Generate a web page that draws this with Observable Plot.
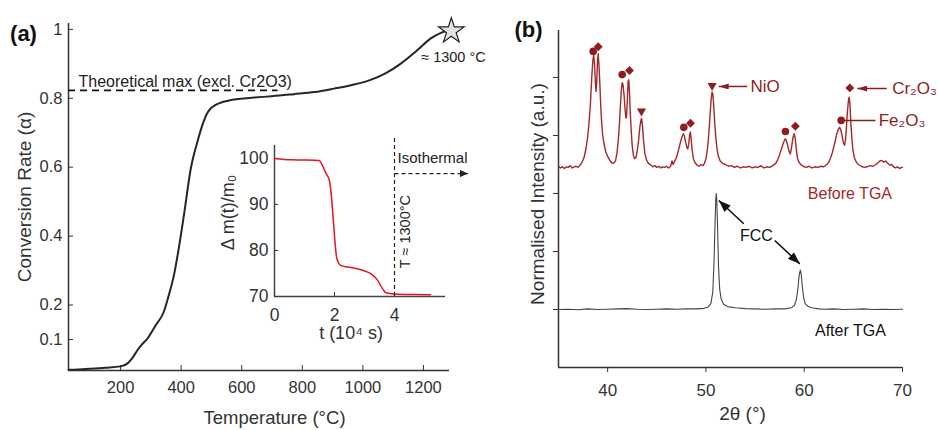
<!DOCTYPE html>
<html><head><meta charset="utf-8">
<script src="https://cdn.jsdelivr.net/npm/d3@7"></script>
<script src="https://cdn.jsdelivr.net/npm/@observablehq/plot@0.6"></script>
<style>
html,body{margin:0;padding:0;background:#fff;}
#chart{position:relative;width:938px;height:430px;overflow:hidden;}
#chart svg{position:absolute;overflow:visible;}
</style></head><body><div id="chart"></div>
<script>
const FONT = '"Liberation Sans", Arial, Helvetica, sans-serif';

// ---------- Panel (a): conversion rate vs temperature ----------
const tempA  = [28, 60, 100, 150, 200, 222, 238, 255, 270, 288, 315, 342, 359, 376, 392, 409, 432, 455, 472, 485, 498, 512, 530, 555, 590, 640, 700, 772, 840, 904, 960, 1021, 1076, 1124, 1179, 1223, 1256, 1275, 1292];
const alphaA = [0.012, 0.013, 0.015, 0.018, 0.022, 0.030, 0.045, 0.068, 0.085, 0.102, 0.14, 0.179, 0.228, 0.286, 0.364, 0.46, 0.597, 0.678, 0.727, 0.755, 0.771, 0.780, 0.787, 0.793, 0.798, 0.802, 0.806, 0.812, 0.818, 0.828, 0.838, 0.852, 0.873, 0.90, 0.939, 0.973, 0.989, 0.995, 0.997];
const tempTicks  = [200, 400, 600, 800, 1000, 1200];
const alphaTicks = [0.1, 0.2, 0.4, 0.6, 0.8, 1];
const theoMax = 0.823;          // theoretical max (excl. Cr2O3)
const theoEndTemp = 720;
const starPoint = [{t: 1292, a: 0.995}];

// ---------- Inset: mass change vs time ----------
const timeI = [0, 0.55, 1.0, 1.49, 1.57, 1.72, 1.83, 1.9, 1.97, 2.02, 2.08, 2.22, 2.44, 2.88, 3.22, 3.44, 3.6, 3.72, 4.0, 4.66, 5.2];
const massI = [100.0, 99.7, 99.65, 99.55, 98.8, 96.7, 95.2, 91.6, 85.8, 81.5, 78.2, 76.7, 76.4, 75.8, 74.9, 73.5, 71.7, 70.8, 70.55, 70.43, 70.4];
const timeTicks = [0, 2, 4];
const massTicks = [70, 80, 90, 100];
const isoTime = 4;

// ---------- Panel (b): XRD ----------
const thetaBefore = [35.0,35.2,35.4,35.6,35.8,36.0,36.2,36.4,36.6,36.8,37.0,37.2,37.4,37.6,37.8,37.95,38.1,38.25,38.4,38.5,38.58,38.66,38.76,38.82,38.9,38.97,39.04,39.12,39.2,39.3,39.4,39.5,39.65,39.8,40.0,40.2,40.4,40.6,40.8,40.95,41.1,41.2,41.3,41.4,41.48,41.56,41.66,41.76,41.86,41.92,42.0,42.08,42.15,42.22,42.3,42.4,42.5,42.62,42.75,42.88,43.0,43.15,43.28,43.4,43.46,43.55,43.65,43.78,43.95,44.15,44.4,44.6,44.8,45.0,45.2,45.4,45.6,45.8,46.0,46.2,46.4,46.55,46.65,46.8,47.0,47.2,47.4,47.55,47.7,47.8,47.92,48.05,48.15,48.25,48.35,48.42,48.5,48.6,48.72,48.9,49.1,49.3,49.5,49.7,49.85,50.0,50.15,50.28,50.4,50.52,50.62,50.7,50.8,50.9,51.0,51.12,51.25,51.45,51.7,52.0,52.3,52.6,52.9,53.2,53.5,53.8,54.1,54.4,54.7,55.0,55.3,55.6,55.9,56.2,56.5,56.8,57.1,57.3,57.5,57.7,57.9,58.05,58.15,58.3,58.45,58.58,58.7,58.85,58.98,59.08,59.2,59.32,59.5,59.7,59.9,60.2,60.5,60.8,61.1,61.4,61.7,62.0,62.3,62.5,62.7,62.85,63.0,63.15,63.3,63.45,63.6,63.72,63.85,63.98,64.1,64.2,64.3,64.4,64.5,64.57,64.65,64.75,64.85,64.95,65.1,65.3,65.5,65.8,66.1,66.4,66.7,67.0,67.3,67.5,67.7,67.9,68.1,68.3,68.5,68.7,68.9,69.1,69.3,69.5,69.7,69.9,70.0];
const intBefore   = [2.47,2.44,2.46,2.43,2.46,2.45,2.48,2.44,2.46,2.47,2.45,2.49,2.54,2.62,2.78,2.95,3.2,3.55,4.05,4.3,4.38,4.25,3.9,3.76,3.95,4.3,4.41,4.2,3.92,3.5,3.2,3.0,2.84,2.72,2.64,2.58,2.53,2.52,2.56,2.7,2.95,3.2,3.52,3.8,3.91,3.88,3.72,3.48,3.3,3.32,3.6,3.93,3.96,3.75,3.4,3.08,2.82,2.66,2.6,2.62,2.72,2.92,3.15,3.28,3.29,3.15,2.92,2.7,2.58,2.52,2.49,2.46,2.48,2.45,2.47,2.44,2.46,2.45,2.47,2.44,2.47,2.56,2.5,2.55,2.62,2.74,2.88,2.97,3.03,3.0,2.9,2.8,2.77,2.85,3.02,3.06,2.93,2.75,2.6,2.53,2.49,2.47,2.5,2.48,2.52,2.6,2.76,3.0,3.3,3.6,3.75,3.72,3.5,3.2,2.98,2.78,2.65,2.56,2.52,2.5,2.47,2.48,2.45,2.47,2.44,2.46,2.45,2.47,2.44,2.46,2.45,2.48,2.44,2.46,2.45,2.48,2.52,2.58,2.67,2.78,2.88,2.94,2.93,2.84,2.73,2.68,2.78,2.96,3.03,2.95,2.76,2.6,2.53,2.49,2.47,2.45,2.47,2.44,2.46,2.45,2.47,2.46,2.5,2.54,2.62,2.7,2.8,2.9,3.02,3.1,3.14,3.1,3.0,2.88,2.83,2.92,3.15,3.42,3.6,3.66,3.55,3.2,2.95,2.76,2.62,2.54,2.5,2.47,2.45,2.46,2.48,2.47,2.5,2.53,2.56,2.57,2.54,2.56,2.52,2.49,2.5,2.46,2.44,2.46,2.43,2.45,2.45];
const thetaAfter = [35,36,37,38,39,40,41,42,43,44,45,46,47,48,49,49.8,50.2,50.5,50.7,50.82,50.92,51.0,51.05,51.1,51.18,51.28,51.4,51.55,51.8,52.2,53,54,55,56,57,58,58.7,59.0,59.2,59.35,59.48,59.6,59.7,59.82,59.95,60.1,60.4,60.9,61.5,62,63,64,65,66,67,68,69,70];
const intAfter   = [0,0.005,-0.005,0.01,0,0.005,0.01,0.015,0.005,0,0.005,0.01,0.005,0.01,0.01,0.02,0.04,0.1,0.3,0.8,1.45,1.9,2.0,1.9,1.45,0.75,0.35,0.18,0.09,0.05,0.03,0.015,0.01,0.005,0.01,0.01,0.03,0.07,0.17,0.35,0.58,0.68,0.6,0.38,0.2,0.1,0.05,0.025,0.01,0.005,0.01,0,0.005,0.01,0,0.005,0,0.005];
const thetaTicks = [40, 50, 60, 70];
const intTicks = [0, 1, 2, 3, 4];
const fe2o3Peaks = [[38.53,4.45],[41.48,4.05],[47.75,3.14],[58.09,3.07],[63.76,3.26]];
const cr2o3Peaks = [[39.04,4.53],[42.22,4.12],[48.43,3.21],[59.1,3.16],[64.64,3.82]];
const nioPeaks   = [[43.44,3.42],[50.63,3.86]];

// ---------- helpers ----------
function filledArrow(len, wid) {
  return (color) => {
    const m = d3.create("svg:marker")
      .attr("viewBox", `${-len} ${-wid / 2} ${len} ${wid}`)
      .attr("markerWidth", len).attr("markerHeight", wid)
      .attr("markerUnits", "userSpaceOnUse")
      .attr("refX", 0).attr("refY", 0)
      .attr("orient", "auto");
    m.append("path")
      .attr("d", `M${-len},${-wid / 2}L0,0L${-len},${wid / 2}Z`)
      .attr("fill", color).attr("stroke", "none");
    return m.node();
  };
}
const zipXY = (xs, ys) => xs.map((x, i) => ({x, y: ys[i]}));
const chart = document.getElementById("chart");
function place(svg, left, top) { svg.style.left = left + "px"; svg.style.top = top + "px"; chart.appendChild(svg); }
const label = (s, o) => Plot.text([s], {text: d => d, textAnchor: "middle", lineAnchor: "middle", ...o});

// ---------- Panel (a) ----------
const AX = "#333";
const plotA = Plot.plot({
  width: 470, height: 430,
  marginLeft: 68, marginRight: 21, marginTop: 23, marginBottom: 60,
  style: {fontFamily: FONT, background: "transparent", color: AX},
  x: {domain: [28, 1286]},
  y: {domain: [0.01, 1.017]},
  marks: [
    Plot.ruleY([0.01], {stroke: AX, strokeWidth: 1.5}),
    Plot.ruleX([28], {stroke: AX, strokeWidth: 1.5}),
    Plot.axisX(tempTicks, {tickSize: -5, tickPadding: 16, fontSize: 16.5, label: null, color: AX, tickFormat: d => String(d)}),
    Plot.axisY(alphaTicks, {tickSize: -5, tickPadding: 11, fontSize: 16.5, label: null, color: AX, tickFormat: d => String(d)}),
    Plot.ruleY([theoMax], {x1: 28, x2: theoEndTemp, stroke: "#111", strokeWidth: 1.6, strokeDasharray: "7,5"}),
    Plot.text(["Theoretical max (excl. Cr2O3)"], {x: 61, y: 0.849, text: d => d, textAnchor: "start", fontSize: 16, fill: "#222"}),
    Plot.line(zipXY(tempA, alphaA), {x: "x", y: "y", curve: "monotone-x", stroke: "#262626", strokeWidth: 2}),
    Plot.dot(starPoint, {x: "t", y: "a", symbol: "star", r: 8, fill: "#e2e2e2", stroke: "#222", strokeWidth: 1.2}),
    Plot.text(["≈ 1300 °C"], {x: 1299, y: 0.919, text: d => d, fontSize: 14.5, fill: "#222"}),
    label("Temperature (°C)", {frameAnchor: "bottom", dx: 15.5, dy: 48, fontSize: 18.5, fill: "#333"}),
    label("Conversion Rate (α)", {frameAnchor: "left", rotate: -90, dx: -44, dy: 0, fontSize: 19, fill: "#333"}),
    label("(a)", {frameAnchor: "top-left", dx: -45, dy: 10, fontSize: 22, fontWeight: "bold", fill: "#111"})
  ]
});
place(plotA, 0, 0);

// ---------- Inset ----------
const plotI = Plot.plot({
  width: 280, height: 220,
  marginLeft: 74, marginRight: 35, marginTop: 15, marginBottom: 54,
  style: {fontFamily: FONT, background: "transparent", color: "#444"},
  x: {domain: [0, 5.7]},
  y: {domain: [70, 102.8]},
  marks: [
    Plot.ruleY([70], {stroke: "#444", strokeWidth: 1.5}),
    Plot.ruleX([0], {stroke: "#444", strokeWidth: 1.5}),
    Plot.axisX(timeTicks, {tickSize: -4, tickPadding: 16, fontSize: 17.5, label: null, color: "#333"}),
    Plot.axisY(massTicks, {tickSize: -4, tickPadding: 10, fontSize: 17.5, label: null, color: "#333"}),
    Plot.line(zipXY(timeI, massI), {x: "x", y: "y", curve: "monotone-x", stroke: "#e3151d", strokeWidth: 1.5}),
    Plot.ruleX([isoTime], {y1: 70, y2: 104.6, stroke: "#222", strokeWidth: 1.2, strokeDasharray: "4,3"}),
    Plot.link([0], {x1: isoTime, x2: 6.45, y1: 96.7, y2: 96.7, stroke: "#222", strokeWidth: 1.2, strokeDasharray: "4,3", markerEnd: filledArrow(8, 7)}),
    Plot.text(["Isothermal"], {x: 4.1, y: 100.15, text: d => d, textAnchor: "start", fontSize: 15, fill: "#222"}),
    Plot.text(["T ≈ 1300°C"], {x: 4.35, y: 84.1, text: d => d, rotate: -90, fontSize: 14.5, fill: "#222"}),
    label("Δ m(t)/m₀", {frameAnchor: "left", rotate: -90, dx: -46, dy: -8.5, fontSize: 18, fill: "#333"}),
    label("t (10⁴ s)", {frameAnchor: "bottom", dx: -9, dy: 37, fontSize: 18, fill: "#333"})
  ]
});
place(plotI, 200, 130);

// ---------- Panel (b) ----------
const RED = "#a3282b", DRED = "#8f1d1f";
const plotB = Plot.plot({
  width: 468, height: 430,
  marginLeft: 88, marginRight: 36, marginTop: 30, marginBottom: 63,
  style: {fontFamily: FONT, background: "transparent", color: AX},
  x: {domain: [35, 70]},
  y: {domain: [-1.0, 4.81]},
  marks: [
    Plot.ruleY([-1.0], {stroke: AX, strokeWidth: 1.5}),
    Plot.ruleX([35], {stroke: AX, strokeWidth: 1.5}),
    Plot.axisX(thetaTicks, {tickSize: 5, tickPadding: 11, fontSize: 17, label: null, color: AX}),
    Plot.axisY(intTicks, {tickSize: 5, tickPadding: 3, label: null, color: AX, tickFormat: () => ""}),
    Plot.line(zipXY(thetaAfter, intAfter), {x: "x", y: "y", stroke: "#444", strokeWidth: 1.1}),
    Plot.line(zipXY(thetaBefore, intBefore), {x: "x", y: "y", stroke: RED, strokeWidth: 1.4}),
    Plot.dot(fe2o3Peaks, {x: d => d[0], y: d => d[1], r: 3.8, fill: DRED, stroke: "none"}),
    Plot.dot(cr2o3Peaks, {x: d => d[0], y: d => d[1], symbol: "diamond2", r: 4, fill: DRED, stroke: "none"}),
    Plot.dot(nioPeaks, {x: d => d[0], y: d => d[1], symbol: "triangle", rotate: 180, r: 3.4, fill: DRED, stroke: "none"}),
    Plot.link([0], {x1: 54.2, x2: 51.3, y1: 3.845, y2: 3.845, stroke: DRED, strokeWidth: 1.5, markerEnd: filledArrow(10, 6)}),
    Plot.link([0], {x1: 68.4, x2: 65.4, y1: 3.81, y2: 3.81, stroke: DRED, strokeWidth: 1.5, markerEnd: filledArrow(10, 6)}),
    Plot.link([0], {x1: 63.76, x2: 67.25, y1: 3.26, y2: 3.26, stroke: DRED, strokeWidth: 1.5}),
    Plot.text(["NiO"], {x: 54.53, y: 3.845, text: d => d, textAnchor: "start", fontSize: 17, fill: DRED}),
    Plot.text(["Cr₂O₃"], {x: 68.95, y: 3.81, text: d => d, textAnchor: "start", fontSize: 17, fill: DRED}),
    Plot.text(["Fe₂O₃"], {x: 67.58, y: 3.26, text: d => d, textAnchor: "start", fontSize: 17, fill: DRED}),
    Plot.text(["Before TGA"], {x: 64.65, y: 2.0, text: d => d, fontSize: 16, fill: RED}),
    Plot.text(["After TGA"], {x: 64.7, y: -0.374, text: d => d, fontSize: 16, fill: "#111"}),
    Plot.text(["FCC"], {x: 55.14, y: 1.276, text: d => d, fontSize: 16, fill: "#111"}),
    Plot.link([0], {x1: 53.85, y1: 1.478, x2: 51.31, y2: 1.879, stroke: "#111", strokeWidth: 1.6, markerEnd: filledArrow(12, 9)}),
    Plot.link([0], {x1: 57.0, y1: 1.19, x2: 59.55, y2: 0.788, stroke: "#111", strokeWidth: 1.6, markerEnd: filledArrow(12, 9)}),
    label("2θ (°)", {frameAnchor: "bottom", dx: 12, dy: 46, fontSize: 19, fill: "#333"}),
    label("Normalised Intensity (a.u.)", {frameAnchor: "left", rotate: -90, dx: -21, dy: -5, fontSize: 19, fill: "#333"}),
    label("(b)", {frameAnchor: "top-left", dx: -30, dy: -1, fontSize: 22, fontWeight: "bold", fill: "#111"})
  ]
});
place(plotB, 470, 0);
</script></body></html>
